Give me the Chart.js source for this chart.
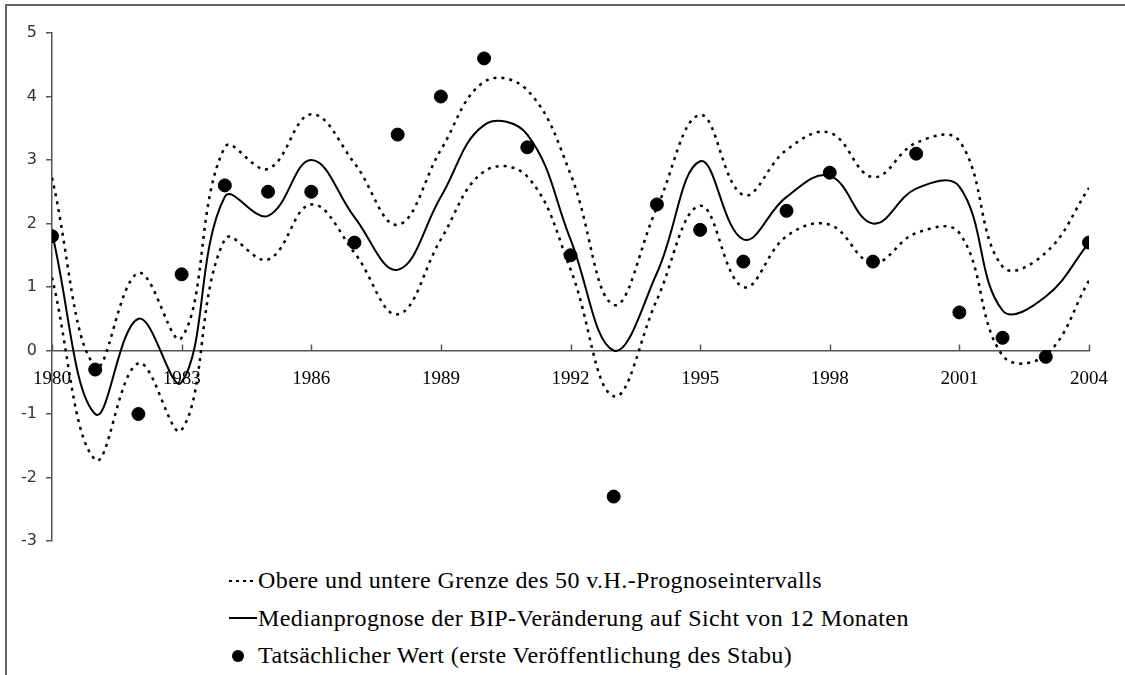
<!DOCTYPE html>
<html>
<head>
<meta charset="utf-8">
<script src="https://cdn.jsdelivr.net/npm/chart.js@4"></script>
<style>
  html, body { margin: 0; padding: 0; background: #fff; }
  #wrap { position: relative; width: 1125px; height: 675px; overflow: hidden; }
  #frame { position: absolute; left: 5px; top: 4px; right: -10px; bottom: -10px;
           border-top: 2px solid #666; border-left: 2px solid #666; }
  #chartBox { position: absolute; left: 0; top: 0; width: 1125px; height: 560px; }
  #legend { position: absolute; left: 228px; top: 562px; font-family: "Liberation Serif", "Times New Roman", serif;
            font-size: 24px; letter-spacing: 0.4px; color: #000; }
  #legend .row { display: flex; align-items: center; height: 37.5px; white-space: nowrap; }
  #legend .sym { width: 30px; display: flex; align-items: center; justify-content: center; }
  #legend .dots { width: 28px; height: 2.5px;
                  background: repeating-linear-gradient(to right, #000 0 3px, transparent 3px 7px); }
  #legend .solid { width: 28px; height: 2px; background: #000; }
  #legend .dot { width: 12px; height: 12px; border-radius: 50%; background: #000; margin-right: 10px; }
</style>
</head>
<body>
<div id="wrap">
  <div id="frame"></div>
  <div id="chartBox"><canvas id="bipChart"></canvas></div>
  <div id="legend"></div>
</div>
<script>
const years = [1980, 1981, 1982, 1983, 1984, 1985, 1986, 1987, 1988, 1989, 1990, 1991, 1992,
               1993, 1994, 1995, 1996, 1997, 1998, 1999, 2000, 2001, 2002, 2003, 2004];
const median = [1.85, -1.0, 0.5, -0.5, 2.42, 2.12, 3.0, 2.1, 1.27, 2.42, 3.55, 3.4, 1.75,
                0.0, 1.22, 2.98, 1.75, 2.42, 2.75, 2.0, 2.55, 2.58, 0.63, 0.85, 1.7];
const upper = [2.72, -0.25, 1.22, 0.2, 3.2, 2.86, 3.72, 2.95, 1.98, 3.16, 4.23, 4.1, 2.78,
               0.72, 2.25, 3.71, 2.45, 3.16, 3.43, 2.73, 3.27, 3.3, 1.32, 1.54, 2.56];
const lower = [1.15, -1.72, -0.2, -1.25, 1.75, 1.43, 2.3, 1.54, 0.57, 1.75, 2.82, 2.74, 1.28,
               -0.72, 0.8, 2.28, 1.0, 1.8, 1.98, 1.38, 1.85, 1.85, -0.08, -0.07, 1.1];
const actual = [1.8, -0.3, -1.0, 1.2, 2.6, 2.5, 2.5, 1.7, 3.4, 4.0, 4.6, 3.2, 1.5,
                -2.3, 2.3, 1.9, 1.4, 2.2, 2.8, 1.4, 3.1, 0.6, 0.2, -0.1, 1.7];
const yTicks = [-3, -2, -1, 0, 1, 2, 3, 4, 5];
const xTickYears = [1980, 1983, 1986, 1989, 1992, 1995, 1998, 2001, 2004];

const labelBand = 'Obere und untere Grenze des 50 v.H.-Prognoseintervalls';
const labelMedian = 'Medianprognose der BIP-Veränderung auf Sicht von 12 Monaten';
const labelActual = 'Tatsächlicher Wert (erste Veröffentlichung des Stabu)';

function toPoints(values) {
    return years.map((yr, i) => ({ x: yr, y: values[i] }));
}

const bandStyle = {
    type: 'line',
    borderColor: '#000',
    borderWidth: 2.5,
    borderDash: [3, 5],
    pointRadius: 0,
    tension: 0.4,
    fill: false
};

// x axis sits on the zero line, its tick marks point upward
const upTicks = {
    id: 'upTicks',
    afterDraw(chart) {
        const xs = chart.scales.x, ys = chart.scales.y;
        const ctx = chart.ctx;
        const y0 = ys.getPixelForValue(0);
        ctx.save();
        ctx.strokeStyle = '#555';
        ctx.lineWidth = 1.5;
        xTickYears.forEach(yr => {
            const px = Math.round(xs.getPixelForValue(yr)) + 0.5;
            ctx.beginPath();
            ctx.moveTo(px, y0);
            ctx.lineTo(px, y0 - 6);
            ctx.stroke();
        });
        ctx.restore();
    }
};

const htmlLegend = {
    id: 'htmlLegend',
    afterUpdate(chart) {
        const box = document.getElementById('legend');
        box.innerHTML = '';
        chart.data.datasets.forEach(ds => {
            if (ds.hideInLegend) return;
            const row = document.createElement('div');
            row.className = 'row';
            const sym = document.createElement('span');
            sym.className = 'sym';
            const mark = document.createElement('span');
            mark.className = ds.legendMark;
            sym.appendChild(mark);
            const txt = document.createElement('span');
            txt.textContent = ds.label;
            row.appendChild(sym);
            row.appendChild(txt);
            box.appendChild(row);
        });
    }
};

const canvas = document.getElementById('bipChart');
new Chart(canvas.getContext('2d'), {
    data: {
        datasets: [
            Object.assign({}, bandStyle, { label: labelBand, data: toPoints(upper), legendMark: 'dots', order: 3 }),
            Object.assign({}, bandStyle, { label: labelBand, data: toPoints(lower), hideInLegend: true, order: 3 }),
            {
                type: 'line',
                label: labelMedian,
                data: toPoints(median),
                borderColor: '#000',
                borderWidth: 2,
                pointRadius: 0,
                tension: 0.4,
                fill: false,
                legendMark: 'solid',
                order: 2
            },
            {
                type: 'scatter',
                label: labelActual,
                data: toPoints(actual),
                backgroundColor: '#000',
                borderColor: '#000',
                pointRadius: 6.5,
                pointHoverRadius: 6.5,
                legendMark: 'dot',
                order: 1
            }
        ]
    },
    options: {
        responsive: true,
        maintainAspectRatio: false,
        animation: false,
        layout: { padding: { top: 33, bottom: 19, right: 29, left: 0 } },
        plugins: {
            legend: { display: false },
            tooltip: { enabled: false }
        },
        scales: {
            x: {
                type: 'linear',
                min: 1980,
                max: 2004,
                position: { y: 0 },
                afterFit: s => { s.height = 0; },
                afterBuildTicks: s => { s.ticks = xTickYears.map(v => ({ value: v })); },
                grid: { display: false, drawTicks: false },
                border: { display: true, color: '#555', width: 1.5 },
                ticks: {
                    callback: v => String(v),
                    color: '#000',
                    padding: 17,
                    maxRotation: 0,
                    autoSkip: false,
                    font: { family: '"Liberation Serif", "Times New Roman", serif', size: 19 }
                }
            },
            y: {
                min: -3,
                max: 5,
                afterFit: s => { s.width = 52; },
                afterBuildTicks: s => { s.ticks = yTicks.map(v => ({ value: v })); },
                grid: { drawOnChartArea: false, drawTicks: true, tickLength: 6, color: '#555', lineWidth: 1.5 },
                border: { display: true, color: '#555', width: 1.5 },
                ticks: {
                    color: '#333',
                    padding: 9,
                    font: { family: '"DejaVu Sans", sans-serif', size: 16 }
                }
            }
        }
    },
    plugins: [upTicks, htmlLegend]
});
</script>
</body>
</html>
